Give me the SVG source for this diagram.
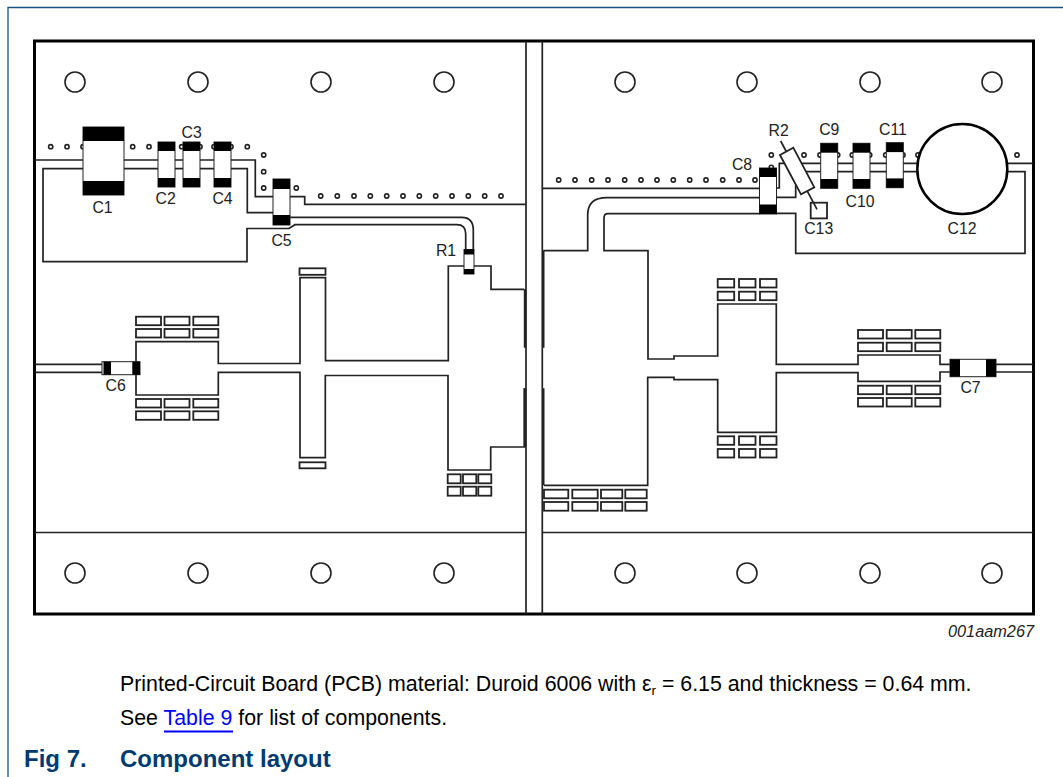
<svg xmlns="http://www.w3.org/2000/svg" width="1063" height="777" viewBox="0 0 1063 777">
<style>
text{font-family:"Liberation Sans",Arial,sans-serif;fill:#222}
.l{font-size:15.800px;text-anchor:middle}
.t{fill:none;stroke:#222;stroke-width:1.7}
.h{fill:#fff;stroke:#222;stroke-width:1.6}
.d{fill:#fff;stroke:#222;stroke-width:1.6}
.p{fill:#fff;stroke:#222;stroke-width:1.8}
.c{fill:#fff;stroke:#222;stroke-width:1}
.b{fill:#000}
.body{font-size:21.350px;fill:#000}
</style>
<defs>
<circle id="dot" r="2.100" class="d"/>
<circle id="hole" r="10" class="h"/>
<rect id="w25" width="25" height="8.500" class="p"/>
<rect id="w17" width="16.500" height="8.500" class="p"/>
</defs>
<rect width="1063" height="777" fill="#fff"/>
<path d="M8 777V7.500H1063" fill="none" stroke="#15527f" stroke-width="1.300"/>

<g id="board">
<rect x="34.500" y="41" width="999" height="573" fill="#fff" stroke="#000" stroke-width="3"/>
<path class="t" d="M526 41V614M542.300 41V614M35 532.500H526M542 532.500H1033"/>
</g>

<g id="holes">
<use href="#hole" x="75" y="82"/><use href="#hole" x="198" y="82"/><use href="#hole" x="321" y="82"/><use href="#hole" x="444" y="82"/>
<use href="#hole" x="625" y="82"/><use href="#hole" x="747" y="82"/><use href="#hole" x="870" y="82"/><use href="#hole" x="992" y="82"/>
<use href="#hole" x="75" y="573"/><use href="#hole" x="198" y="573"/><use href="#hole" x="321" y="573"/><use href="#hole" x="444" y="573"/>
<use href="#hole" x="625" y="573"/><use href="#hole" x="747" y="573"/><use href="#hole" x="870" y="573"/><use href="#hole" x="992" y="573"/>
</g>

<g id="vias">
<use href="#dot" x="50.700" y="146.700"/><use href="#dot" x="67" y="146.700"/><use href="#dot" x="83" y="146.700"/><use href="#dot" x="132.700" y="146.700"/><use href="#dot" x="149" y="146.700"/><use href="#dot" x="181.700" y="146.700"/><use href="#dot" x="200" y="146.700"/><use href="#dot" x="214" y="146.700"/><use href="#dot" x="231" y="146.700"/><use href="#dot" x="247.300" y="146.700"/>
<use href="#dot" x="263.700" y="155"/><use href="#dot" x="263.700" y="171.700"/><use href="#dot" x="263.700" y="188"/><use href="#dot" x="296.300" y="188"/>
<use href="#dot" x="320.700" y="196"/><use href="#dot" x="337.300" y="196"/><use href="#dot" x="354" y="196"/><use href="#dot" x="370.300" y="196"/><use href="#dot" x="386.700" y="196"/><use href="#dot" x="403" y="196"/><use href="#dot" x="419.300" y="196"/><use href="#dot" x="435.700" y="196"/><use href="#dot" x="452" y="196"/><use href="#dot" x="468.300" y="196"/><use href="#dot" x="484.700" y="196"/><use href="#dot" x="501" y="196"/>
<use href="#dot" x="558.700" y="180"/><use href="#dot" x="575" y="180"/><use href="#dot" x="591.700" y="180"/><use href="#dot" x="608" y="180"/><use href="#dot" x="624.700" y="180"/><use href="#dot" x="641" y="180"/><use href="#dot" x="657" y="180"/><use href="#dot" x="673.300" y="180"/><use href="#dot" x="689.700" y="180"/><use href="#dot" x="706" y="180"/><use href="#dot" x="722.700" y="180"/><use href="#dot" x="739" y="180"/><use href="#dot" x="755" y="180"/>
<use href="#dot" x="771.300" y="155"/><use href="#dot" x="771.300" y="167.300"/><use href="#dot" x="804" y="155"/><use href="#dot" x="820" y="155"/><use href="#dot" x="837.700" y="155"/><use href="#dot" x="852.300" y="155"/><use href="#dot" x="869.700" y="155"/><use href="#dot" x="885.700" y="155"/><use href="#dot" x="903" y="155"/><use href="#dot" x="918" y="155"/><use href="#dot" x="1017" y="155"/>
</g>

<g id="connectors">
<path class="t" d="M35 160H255.300V196.700H304.700V204.300H525.700"/>
<path class="t" d="M83 168.700H43V261.700H247V228.500H289L295 224.700H456.700Q465.700 224.700 465.700 233.700V250"/>
<path class="t" d="M124 168.700H247.300V212.700H290"/>
<path class="t" d="M290 217.300H461.700Q473.300 217.300 473.300 230V250"/>
<path class="t" d="M465 266H448.300V360.700H325.500V277.700H300V363.500H218.300V341.700H136V395H218.300V372.300H300V457.700H325.300V375.500H448V470H490.700V447H524.300V388.300"/>
<path class="t" d="M473 266H491V289.300H524.300"/>
<path class="t" d="M35 364.300H103M35 372.300H103"/>
<path d="M525 289.300V347.700M525 388.300V447" fill="none" stroke="#222" stroke-width="2.400"/>
<path class="t" d="M542.500 188.300H760"/>
<path class="t" d="M760 197.700H606.700Q587.700 197.700 587.700 215V250.700H543.300"/>
<path class="t" d="M760 213.700H608Q604 213.700 604 218V250.700H648V359H674V356H717.700V304H776.300V364.300H858V355H940V364.300H950"/>
<path class="t" d="M544 485.300H647.700V377.300H674V379.700H717.700V432.300H776.300V372.700H858V381.300H940V372H950"/>
<path d="M543.300 250.700V347.700M543.300 388.300V485.300" fill="none" stroke="#222" stroke-width="2.400"/>
<path class="t" d="M996 364.300H1033M996 372H1033"/>
<path class="t" d="M776 188H779.300V163.300H1033M776 197.300H795.700V185M796 171.700H1025V253.300H795.700V213.300H776"/>
</g>

<g id="pads">
<rect class="p" x="299.500" y="268.300" width="26" height="6.500"/>
<rect class="p" x="299.500" y="462.300" width="26" height="6"/>
<use href="#w25" x="136" y="316.700"/><use href="#w25" x="164.500" y="316.700"/><use href="#w25" x="193.300" y="316.700"/>
<use href="#w25" x="136" y="329"/><use href="#w25" x="164.500" y="329"/><use href="#w25" x="193.300" y="329"/>
<use href="#w25" x="136" y="399"/><use href="#w25" x="164.500" y="399"/><use href="#w25" x="193.300" y="399"/>
<use href="#w25" x="136" y="411.300"/><use href="#w25" x="164.500" y="411.300"/><use href="#w25" x="193.300" y="411.300"/>
<rect class="p" x="447.700" y="474.300" width="13" height="9"/><rect class="p" x="463" y="474.300" width="13.300" height="9"/><rect class="p" x="478.300" y="474.300" width="13" height="9"/>
<rect class="p" x="447.700" y="486.700" width="13" height="9"/><rect class="p" x="463" y="486.700" width="13.300" height="9"/><rect class="p" x="478.300" y="486.700" width="13" height="9"/>
<rect class="p" x="544" y="489.700" width="24.300" height="8.600"/><rect class="p" x="572.300" y="489.700" width="25.400" height="8.600"/><rect class="p" x="601" y="489.700" width="21.300" height="8.600"/><rect class="p" x="625.300" y="489.700" width="21.400" height="8.600"/>
<rect class="p" x="544" y="502" width="24.300" height="8.700"/><rect class="p" x="572.300" y="502" width="25.400" height="8.700"/><rect class="p" x="601" y="502" width="21.300" height="8.700"/><rect class="p" x="625.300" y="502" width="21.400" height="8.700"/>
<use href="#w17" x="717.700" y="279"/><use href="#w17" x="739" y="279"/><use href="#w17" x="760" y="279"/>
<use href="#w17" x="717.700" y="291.700"/><use href="#w17" x="739" y="291.700"/><use href="#w17" x="760" y="291.700"/>
<use href="#w17" x="717.700" y="436.300"/><use href="#w17" x="739" y="436.300"/><use href="#w17" x="760" y="436.300"/>
<use href="#w17" x="717.700" y="449"/><use href="#w17" x="739" y="449"/><use href="#w17" x="760" y="449"/>
<use href="#w25" x="858" y="330"/><use href="#w25" x="886.700" y="330"/><use href="#w25" x="915.300" y="330"/>
<use href="#w25" x="858" y="342.700"/><use href="#w25" x="886.700" y="342.700"/><use href="#w25" x="915.300" y="342.700"/>
<use href="#w25" x="858" y="385.700"/><use href="#w25" x="886.700" y="385.700"/><use href="#w25" x="915.300" y="385.700"/>
<use href="#w25" x="858" y="398"/><use href="#w25" x="886.700" y="398"/><use href="#w25" x="915.300" y="398"/>
</g>

<g id="C1"><rect class="c" x="83" y="127" width="41" height="68"/><rect class="b" x="83" y="127" width="41" height="14"/><rect class="b" x="83" y="181" width="41" height="14"/><text class="l" x="102.500" y="213">C1</text></g>
<g id="C2"><rect class="c" x="158" y="142" width="17" height="45"/><rect class="b" x="158" y="142" width="17" height="9"/><rect class="b" x="158" y="178" width="17" height="9"/><text class="l" x="165.700" y="204">C2</text></g>
<g id="C3"><rect class="c" x="183" y="142" width="17" height="45"/><rect class="b" x="183" y="142" width="17" height="9"/><rect class="b" x="183" y="178" width="17" height="9"/><text class="l" x="191.700" y="137.500">C3</text></g>
<g id="C4"><rect class="c" x="214" y="142" width="17" height="45"/><rect class="b" x="214" y="142" width="17" height="9"/><rect class="b" x="214" y="178" width="17" height="9"/><text class="l" x="222.500" y="204">C4</text></g>
<g id="C5"><rect class="c" x="273" y="179" width="17" height="46"/><rect class="b" x="273" y="179" width="17" height="10"/><rect class="b" x="273" y="215" width="17" height="10"/><text class="l" x="281.500" y="246">C5</text></g>
<g id="R1"><rect class="c" x="464" y="249.500" width="10" height="24.500"/><rect class="b" x="464" y="249.500" width="10" height="5"/><rect class="b" x="464" y="269" width="10" height="5"/><text class="l" x="446" y="256">R1</text></g>
<g id="C6"><rect class="c" x="102" y="361.700" width="38" height="13"/><rect class="b" x="103.500" y="361.700" width="7.500" height="13"/><rect class="b" x="132.300" y="361.700" width="7.700" height="13"/><text class="l" x="115.700" y="391">C6</text></g>
<g id="C7"><rect class="c" x="950" y="359.300" width="46" height="17.400"/><rect class="b" x="950" y="359.300" width="10" height="17.400"/><rect class="b" x="986" y="359.300" width="10" height="17.400"/><text class="l" x="970.500" y="393">C7</text></g>
<g id="C8"><rect class="c" x="759.500" y="168" width="17" height="46"/><rect class="b" x="759.500" y="168" width="17" height="9"/><rect class="b" x="759.500" y="204.500" width="17" height="9.500"/><text class="l" x="742" y="170">C8</text></g>
<g id="C9"><rect class="c" x="820.700" y="143.300" width="17" height="45"/><rect class="b" x="820.700" y="143.300" width="17" height="9.400"/><rect class="b" x="820.700" y="179" width="17" height="9.300"/><text class="l" x="829.300" y="135">C9</text></g>
<g id="C10"><rect class="c" x="853" y="143.300" width="17" height="45"/><rect class="b" x="853" y="143.300" width="17" height="9.400"/><rect class="b" x="853" y="179" width="17" height="9.300"/><text class="l" x="860" y="207">C10</text></g>
<g id="C11"><rect class="c" x="886.300" y="142.700" width="17" height="45"/><rect class="b" x="886.300" y="142.700" width="17" height="9.400"/><rect class="b" x="886.300" y="178.400" width="17" height="9.300"/><text class="l" x="893" y="135">C11</text></g>
<g id="C12"><circle cx="962.300" cy="169" r="45" fill="#fff" stroke="#000" stroke-width="2.500"/><text class="l" x="962" y="234">C12</text></g>
<g id="C13"><rect class="p" x="810.700" y="202.700" width="16.300" height="15.700"/><text class="l" x="818.700" y="234">C13</text></g>
<g id="R2"><path class="t" d="M780.700 141L817 209.300"/><path class="p" d="M780 155L793.300 147.700L814.300 187.300L801 194.300Z"/><text class="l" x="778.700" y="136">R2</text></g>

<g id="caption">
<text x="1034" y="637" text-anchor="end" font-size="16.300" font-style="italic">001aam267</text>
<text class="body" x="120" y="691">Printed-Circuit Board (PCB) material: Duroid 6006 with ε<tspan font-size="13.500" dy="3.500">r</tspan><tspan dy="-3.500"> = 6.15 and thickness = 0.64 mm.</tspan></text>
<text class="body" x="120" y="725">See <tspan fill="#0000ff">Table 9</tspan> for list of components.</text>
<path d="M164 731.500H233" stroke="#0000ff" stroke-width="2"/>
<text x="24" y="767" font-size="24" font-weight="700" style="fill:#003b6f">Fig 7.</text>
<text x="120" y="767" font-size="24" font-weight="700" style="fill:#003b6f">Component layout</text>
</g>
</svg>
